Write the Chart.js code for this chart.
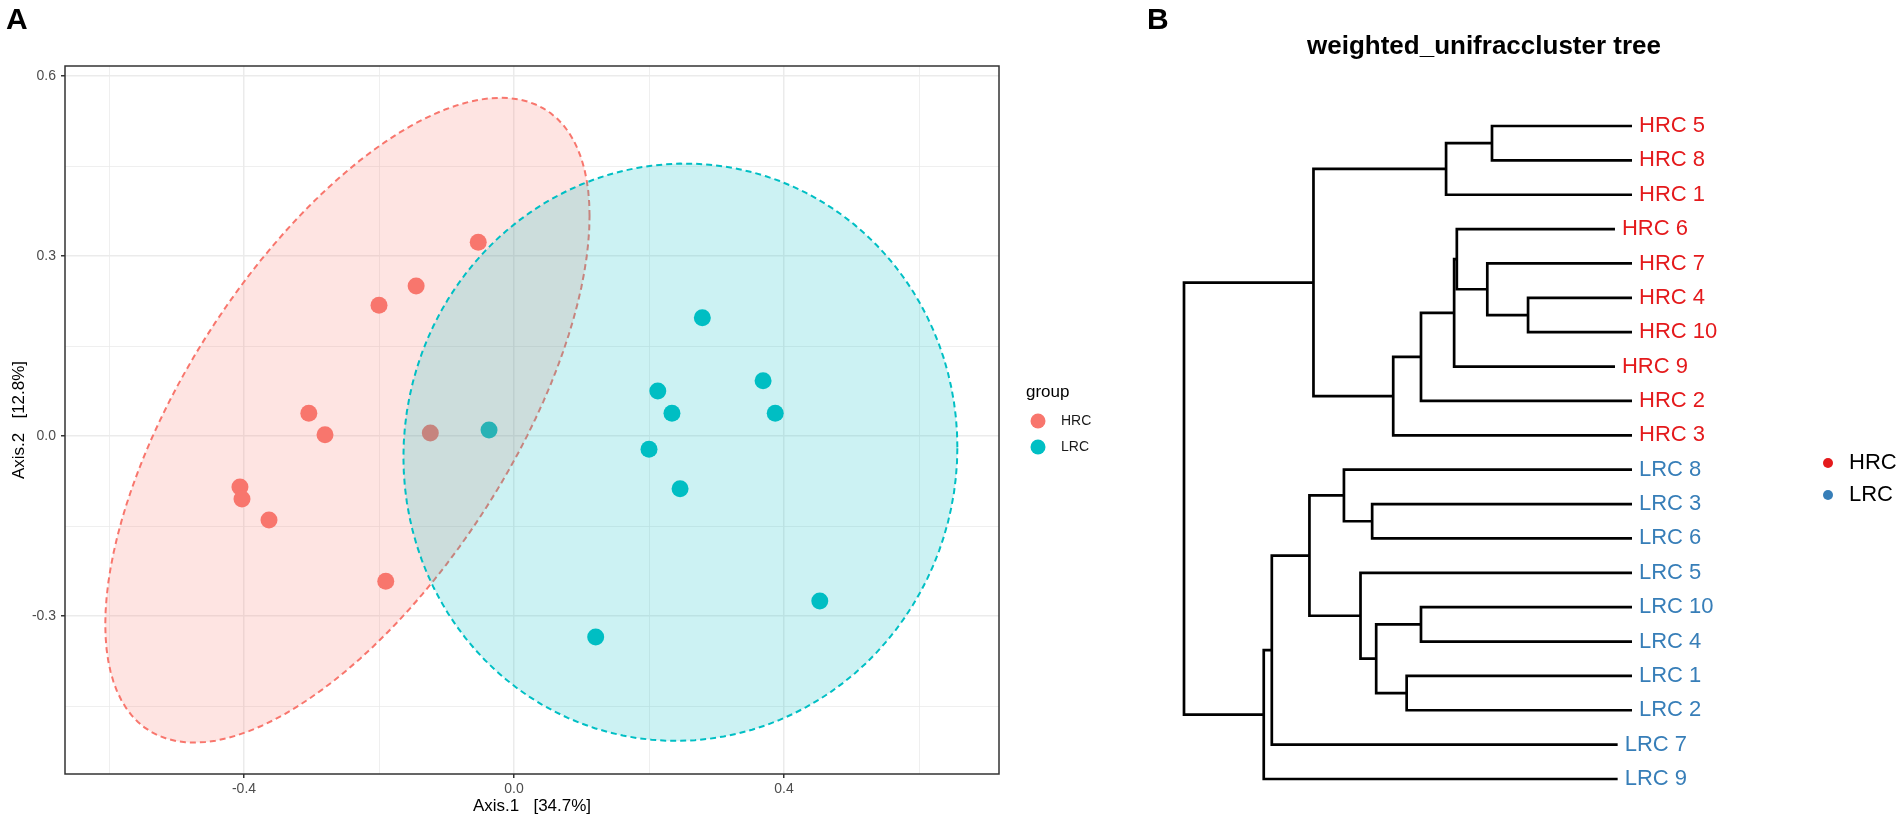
<!DOCTYPE html>
<html>
<head>
<meta charset="utf-8">
<script src="https://cdn.jsdelivr.net/npm/chart.js@4.4.1/dist/chart.umd.min.js"></script>
<style>
  html, body { margin: 0; padding: 0; background: #fff; }
  body { width: 1904px; height: 823px; position: relative; overflow: hidden; font-family: "Liberation Sans", Arial, sans-serif; }
  .tag { position: absolute; z-index: 2; font-weight: bold; font-size: 30px; line-height: 30px; color: #000; }
  #wrapA { position: absolute; left: 0; top: 0; width: 1140px; height: 823px; }
  #wrapB { position: absolute; left: 1150px; top: 0; width: 754px; height: 823px; }
</style>
</head>
<body>
<div id="wrapA"><canvas id="pcoa"></canvas></div>
<div id="wrapB"><canvas id="tree"></canvas></div>
<div class="tag" style="left:6px;top:4px">A</div>
<div class="tag" style="left:1147px;top:4px">B</div>
<script>
// ---- panel A: PCoA scatter ----
const groups = ['HRC', 'LRC'];
const groupColors = ['#F8766D', '#00BFC4'];
const hrcX = [-0.053, -0.145, -0.200, -0.304, -0.280, -0.406, -0.403, -0.363, -0.190, -0.124];
const hrcY = [0.323, 0.250, 0.218, 0.038, 0.002, -0.085, -0.105, -0.140, -0.242, 0.005];
const lrcX = [0.279, 0.369, 0.213, 0.234, 0.387, -0.037, 0.200, 0.246, 0.453, 0.121];
const lrcY = [0.197, 0.092, 0.075, 0.038, 0.038, 0.010, -0.022, -0.088, -0.275, -0.335];
const xTicks = [-0.6, -0.4, -0.2, 0, 0.2, 0.4, 0.6];
const xTickLabels = ['', '-0.4', '', '0.0', '', '0.4', ''];
const yTicks = [-0.45, -0.3, -0.15, 0, 0.15, 0.3, 0.45, 0.6];
const yTickLabels = ['', '-0.3', '', '0.0', '', '0.3', '', '0.6'];
const xTitle = 'Axis.1   [34.7%]';
const yTitle = 'Axis.2   [12.8%]';

// ---- panel B: cluster tree ----
const treeTitle = 'weighted_unifraccluster tree';
const leafLabels = ['HRC 5', 'HRC 8', 'HRC 1', 'HRC 6', 'HRC 7', 'HRC 4', 'HRC 10', 'HRC 9', 'HRC 2', 'HRC 3',
                    'LRC 8', 'LRC 3', 'LRC 6', 'LRC 5', 'LRC 10', 'LRC 4', 'LRC 1', 'LRC 2', 'LRC 7', 'LRC 9'];
const leafDepth = [1, 1, 1, 0.962, 1, 1, 1, 0.962, 1, 1, 1, 1, 1, 1, 1, 1, 1, 1, 0.968, 0.968];
// merges like hclust: negative = leaf -(index+1), positive = earlier merge (1-based)
const mergeA = [-1, 1, -6, -5, -4, 5, 6, 7, 2, -12, -11, -15, -17, 12, -14, 11, 16, 17, 9];
const mergeB = [-2, -3, -7, 3, 4, -8, -9, -10, 8, -13, 10, -16, -18, 13, 14, 15, -19, -20, 18];
const mergeDepth = [0.6875, 0.585, 0.768, 0.677, 0.609, 0.603, 0.529, 0.467, 0.289, 0.420, 0.357,
                    0.529, 0.497, 0.429, 0.394, 0.280, 0.196, 0.178, 0];
const treeColors = ['#E41A1C', '#377EB8'];

Chart.defaults.font.family = '"Liberation Sans", Arial, sans-serif';
Chart.defaults.animation = false;

const FQ95 = 4.256495; // qf(0.95, 2, 9)

function ellipseOutline(xs, ys, steps) {
    const n = xs.length;
    const mx = xs.reduce((a, b) => a + b, 0) / n;
    const my = ys.reduce((a, b) => a + b, 0) / n;
    let sxx = 0, syy = 0, sxy = 0;
    for (let i = 0; i < n; i++) {
        const dx = xs[i] - mx, dy = ys[i] - my;
        sxx += dx * dx; syy += dy * dy; sxy += dx * dy;
    }
    sxx /= n - 1; syy /= n - 1; sxy /= n - 1;
    const r = Math.sqrt(2 * FQ95);
    const r11 = Math.sqrt(sxx), r12 = sxy / r11, r22 = Math.sqrt(syy - r12 * r12);
    const pts = [];
    for (let k = 0; k <= steps; k++) {
        const t = 2 * Math.PI * k / steps;
        const u = Math.cos(t), v = Math.sin(t);
        pts.push([mx + r * u * r11, my + r * (u * r12 + v * r22)]);
    }
    return pts;
}

function near(a, b) { return Math.abs(a - b) < 1e-9; }
function tickLabel(values, labels, v) {
    const i = values.findIndex(t => near(t, v));
    return i < 0 ? '' : labels[i];
}

const pcoaOverlay = {
    id: 'pcoaOverlay',
    afterDatasetsDraw(chart) {
        const {ctx, chartArea, scales: {x, y}} = chart;
        const sets = [[hrcX, hrcY], [lrcX, lrcY]];
        ctx.save();
        ctx.beginPath();
        ctx.rect(chartArea.left, chartArea.top, chartArea.right - chartArea.left, chartArea.bottom - chartArea.top);
        ctx.clip();
        sets.forEach(([xs, ys], g) => {
            const pts = ellipseOutline(xs, ys, 120);
            ctx.beginPath();
            pts.forEach(([px, py], k) => {
                const X = x.getPixelForValue(px), Y = y.getPixelForValue(py);
                if (k === 0) ctx.moveTo(X, Y); else ctx.lineTo(X, Y);
            });
            ctx.closePath();
            ctx.globalAlpha = 0.2;
            ctx.fillStyle = groupColors[g];
            ctx.fill();
            ctx.globalAlpha = 1;
            ctx.setLineDash([6, 4]);
            ctx.lineWidth = 2;
            ctx.strokeStyle = groupColors[g];
            ctx.stroke();
            ctx.setLineDash([]);
        });
        ctx.restore();
    },
    afterDraw(chart) {
        const {ctx, chartArea} = chart;
        ctx.save();
        ctx.strokeStyle = '#333333';
        ctx.lineWidth = 1.5;
        ctx.strokeRect(chartArea.left, chartArea.top, chartArea.right - chartArea.left, chartArea.bottom - chartArea.top);
        // legend
        ctx.textBaseline = 'middle';
        ctx.textAlign = 'left';
        ctx.fillStyle = '#000';
        ctx.font = '17px "Liberation Sans", Arial, sans-serif';
        ctx.fillText('group', chartArea.right + 27, 392);
        groups.forEach((g, i) => {
            const cy = 421 + i * 26;
            ctx.beginPath();
            ctx.arc(chartArea.right + 39, cy, 7.5, 0, 2 * Math.PI);
            ctx.fillStyle = groupColors[i];
            ctx.fill();
            ctx.fillStyle = '#1a1a1a';
            ctx.font = '14px "Liberation Sans", Arial, sans-serif';
            ctx.fillText(g, chartArea.right + 62, cy);
        });
        ctx.restore();
    }
};

function gridOpts(values, labels) {
    return {
        color: '#EBEBEB',
        lineWidth: c => (c.tick && tickLabel(values, labels, c.tick.value) !== '') ? 1.5 : 0.8,
        tickColor: c => (c.tick && tickLabel(values, labels, c.tick.value) !== '') ? '#333333' : 'rgba(0,0,0,0)',
        tickLength: 4
    };
}

new Chart(document.getElementById('pcoa'), {
    type: 'scatter',
    data: {
        datasets: [
            { label: groups[0], data: hrcX.map((v, i) => ({x: v, y: hrcY[i]})), backgroundColor: groupColors[0], pointRadius: 8.5, borderWidth: 0 },
            { label: groups[1], data: lrcX.map((v, i) => ({x: v, y: lrcY[i]})), backgroundColor: groupColors[1], pointRadius: 8.5, borderWidth: 0 }
        ]
    },
    options: {
        responsive: true,
        maintainAspectRatio: false,
        layout: { padding: { left: 0, top: 66, right: 141, bottom: 0 } },
        plugins: { legend: { display: false }, tooltip: { enabled: false } },
        scales: {
            x: {
                type: 'linear', min: -0.6652, max: 0.7185,
                afterBuildTicks: s => { s.ticks = xTicks.map(v => ({value: v})); },
                afterFit: s => { s.height = 49; },
                grid: gridOpts(xTicks, xTickLabels),
                border: { display: false },
                ticks: { autoSkip: false, maxRotation: 0, padding: 3, color: '#4D4D4D', font: { size: 14 },
                         callback: v => tickLabel(xTicks, xTickLabels, v) },
                title: { display: true, text: xTitle, color: '#000', font: { size: 17 }, padding: { top: 0, bottom: 6.8 } }
            },
            y: {
                type: 'linear', min: -0.5633, max: 0.6167,
                afterBuildTicks: s => { s.ticks = yTicks.map(v => ({value: v})); },
                afterFit: s => { s.width = 65; },
                grid: gridOpts(yTicks, yTickLabels),
                border: { display: false },
                ticks: { autoSkip: false, padding: 5, color: '#4D4D4D', font: { size: 14 },
                         callback: v => tickLabel(yTicks, yTickLabels, v) },
                title: { display: true, text: yTitle, color: '#000', font: { size: 17 }, padding: { top: 8.8, bottom: 0 } }
            }
        }
    },
    plugins: [pcoaOverlay]
});

// ---- tree geometry from the merge table ----
const nodeY = [], nodeDepth = [];
function refY(r) { return r < 0 ? -r - 1 : nodeY[r - 1]; }
function refDepth(r) { return r < 0 ? leafDepth[-r - 1] : nodeDepth[r - 1]; }
const branchSets = mergeA.map((a, k) => {
    const b = mergeB[k], d = mergeDepth[k];
    const ya = refY(a), yb = refY(b);
    nodeY.push((ya + yb) / 2);
    nodeDepth.push(d);
    return {
        data: [{x: refDepth(a), y: ya}, {x: d, y: ya}, {x: d, y: yb}, {x: refDepth(b), y: yb}],
        borderColor: '#000', borderWidth: 2.7, pointRadius: 0, tension: 0, clip: false,
        borderJoinStyle: 'miter', borderCapStyle: 'butt', fill: false, showLine: true
    };
});

const treeOverlay = {
    id: 'treeOverlay',
    afterDraw(chart) {
        const {ctx, scales: {x, y}, chartArea} = chart;
        ctx.save();
        ctx.textBaseline = 'middle';
        ctx.textAlign = 'left';
        ctx.font = '22px "Liberation Sans", Arial, sans-serif';
        leafLabels.forEach((lab, i) => {
            ctx.fillStyle = lab.startsWith('HRC') ? treeColors[0] : treeColors[1];
            ctx.fillText(lab, x.getPixelForValue(leafDepth[i]) + 7, y.getPixelForValue(i));
        });
        groups.forEach((g, i) => {
            const cy = 463 + i * 32;
            ctx.beginPath();
            ctx.arc(chartArea.right + 44, cy, 5, 0, 2 * Math.PI);
            ctx.fillStyle = treeColors[i];
            ctx.fill();
            ctx.fillStyle = '#000';
            ctx.fillText(g, chartArea.right + 65, cy);
        });
        ctx.restore();
    }
};

new Chart(document.getElementById('tree'), {
    type: 'line',
    data: { datasets: branchSets },
    options: {
        responsive: true,
        maintainAspectRatio: false,
        layout: { padding: { left: 34, right: 120, top: 0, bottom: 44 } },
        plugins: {
            legend: { display: false },
            tooltip: { enabled: false },
            title: { display: true, text: treeTitle, fullSize: false, color: '#000',
                     font: { size: 26, weight: 'bold' }, padding: { top: 31.4, bottom: 63.4 } }
        },
        scales: {
            x: { type: 'linear', min: 0, max: 1.3393, display: false },
            y: { type: 'linear', min: 0, max: 19, reverse: true, display: false }
        }
    },
    plugins: [treeOverlay]
});
</script>
</body>
</html>
